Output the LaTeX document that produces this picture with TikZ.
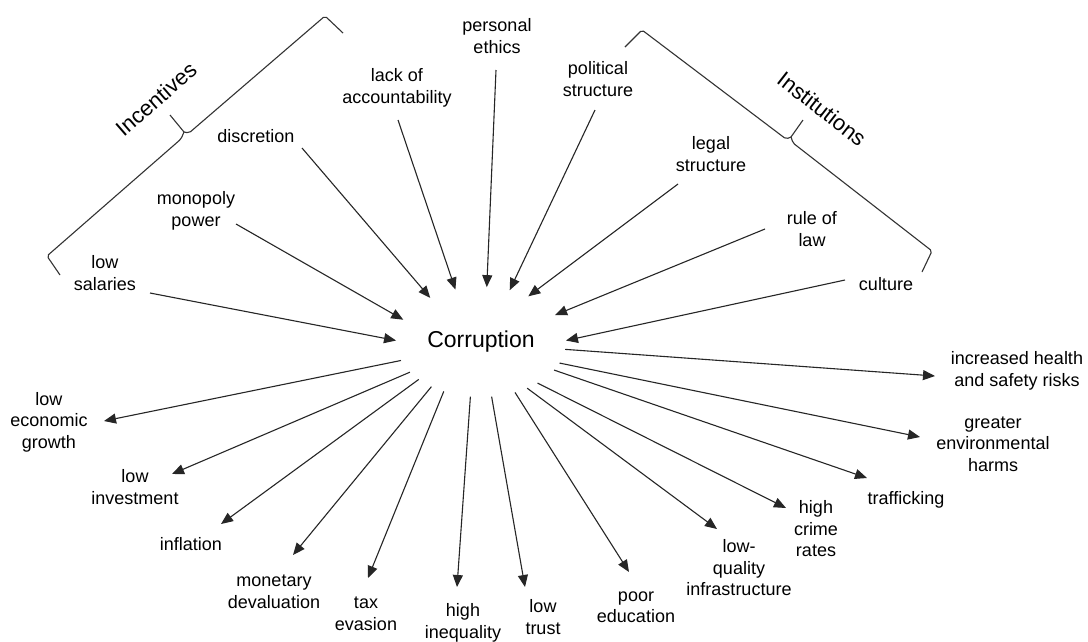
\documentclass[tikz,border=0pt]{standalone}
\usepackage{fontspec}
\setmainfont{Liberation Sans}
\usetikzlibrary{arrows.meta,shapes.geometric}
\begin{document}
\begin{tikzpicture}[x=1pt,y=-1pt,
  lbl/.style={align=center,font=\fontsize{18}{21.5}\selectfont,inner sep=1pt},
  grp/.style={font=\fontsize{22}{26}\selectfont,inner sep=0pt},
  arr/.style={line width=1.1pt,draw=black!85,-{Triangle[length=12pt,width=10pt]}},
  bracket/.style={line width=1.1pt,draw=black!80,rounded corners=2pt}]
\useasboundingbox (0,0) rectangle (1088,641);
\fill[white] (0,0) rectangle (1088,641);

% central node: its elliptic border is where the arrows meet it
\node[ellipse,minimum width=170pt,minimum height=110pt,inner sep=0pt,outer sep=0pt,
      font=\fontsize{23}{27}\selectfont] (cor) at (481,342) {Corruption};

% causes
\node[lbl] (pers)  at (497,36)  {personal\\ethics};
\node[lbl] (lack)  at (397,88)  {lack of\\accountability};
\node[lbl] (pol)   at (598,79)  {political\\structure};
\node[lbl] (dis)   at (256,136) {discretion};
\node[lbl] (mon)   at (196,211) {monopoly\\power};
\node[lbl] (sal)   at (105,273) {low\\salaries};
\node[lbl] (leg)   at (711,154) {legal\\structure};
\node[lbl] (rule)  at (812,229) {rule of\\law};
\node[lbl] (cul)   at (886,284) {culture};

% consequences
\node[lbl] (hlth)  at (1017,371) {increased health\\and safety risks};
\node[lbl] (env)   at (993,444)  {greater\\environmental\\harms};
\node[lbl] (traf)  at (906,500)  {trafficking};
\node[lbl] (crime) at (816,529)  {high\\crime\\rates};
\node[lbl] (lowq)  at (739,568)  {low-\\quality\\infrastructure};
\node[lbl] (poor)  at (636,607)  {poor\\education};
\node[lbl] (trust) at (543,617)  {low\\trust};
\node[lbl] (ineq)  at (463,623)  {high\\inequality};
\node[lbl] (tax)   at (366,614)  {tax\\evasion};
\node[lbl] (mdev)  at (274,592)  {monetary\\devaluation};
\node[lbl] (infl)  at (191,544)  {inflation};
\node[lbl] (inv)   at (135,487)  {low\\investment};
\node[lbl] (econ)  at (49,422)   {low\\economic\\growth};

% group labels
\node[grp,rotate=41]  (incl) at (156,99)  {Incentives};
\node[grp,rotate=-38] (insl) at (822,109) {Institutions};

% outer ends of the cause arrows
\coordinate (sal-e)  at (150,293);
\coordinate (mon-e)  at (236,224);
\coordinate (dis-e)  at (302,148);
\coordinate (lack-e) at (398,120);
\coordinate (pers-e) at (496,70);
\coordinate (pol-e)  at (595,110);
\coordinate (leg-e)  at (678,184);
\coordinate (rule-e) at (765,229);
\coordinate (cul-e)  at (845,280);

% outer ends of the consequence arrows
\coordinate (hlth-e)  at (935,376);
\coordinate (env-e)   at (920,437);
\coordinate (traf-e)  at (867,478);
\coordinate (crime-e) at (786,508);
\coordinate (lowq-e)  at (717,529);
\coordinate (poor-e)  at (629,572);
\coordinate (trust-e) at (525,587);
\coordinate (ineq-e)  at (457,587);
\coordinate (tax-e)   at (368,578);
\coordinate (mdev-e)  at (293,555);
\coordinate (infl-e)  at (221,524);
\coordinate (inv-e)   at (172,474);
\coordinate (econ-e)  at (104,421);

% causes -> corruption
\draw[arr] (sal-e)  -- (cor.179);
\draw[arr] (mon-e)  -- (cor.164);
\draw[arr] (dis-e)  -- (cor.139);
\draw[arr] (lack-e) -- (cor.116);
\draw[arr] (pers-e) -- (cor.84);
\draw[arr] (pol-e)  -- (cor.61);
\draw[arr] (leg-e)  -- (cor.44);
\draw[arr] (rule-e) -- (cor.20);
\draw[arr] (cul-e)  -- (cor.1);

% corruption -> consequences
\draw[arr] (cor.355) -- (hlth-e);
\draw[arr] (cor.345) -- (env-e);
\draw[arr] (cor.339) -- (traf-e);
\draw[arr] (cor.324) -- (crime-e);
\draw[arr] (cor.315) -- (lowq-e);
\draw[arr] (cor.304) -- (poor-e);
\draw[arr] (cor.281) -- (trust-e);
\draw[arr] (cor.259) -- (ineq-e);
\draw[arr] (cor.233) -- (tax-e);
\draw[arr] (cor.222) -- (mdev-e);
\draw[arr] (cor.211) -- (infl-e);
\draw[arr] (cor.203) -- (inv-e);
\draw[arr] (cor.193) -- (econ-e);

% bracket grouping the incentives
\draw[bracket] (60,275) -- (47,256) -- (181,139) -- (184,132);
\draw[line width=1.1pt,draw=black!80] (184,132) -- (170,115);
\draw[bracket] (184,132) -- (189,133) -- (325,16) -- (343,33);

% bracket grouping the institutions
\draw[bracket] (625,47) -- (642,30) -- (786,139) -- (791,137);
\draw[line width=1.1pt,draw=black!80] (791,137) -- (803,120);
\draw[bracket] (791,137) -- (793,143) -- (932,251) -- (922,272);
\end{tikzpicture}
\end{document}
